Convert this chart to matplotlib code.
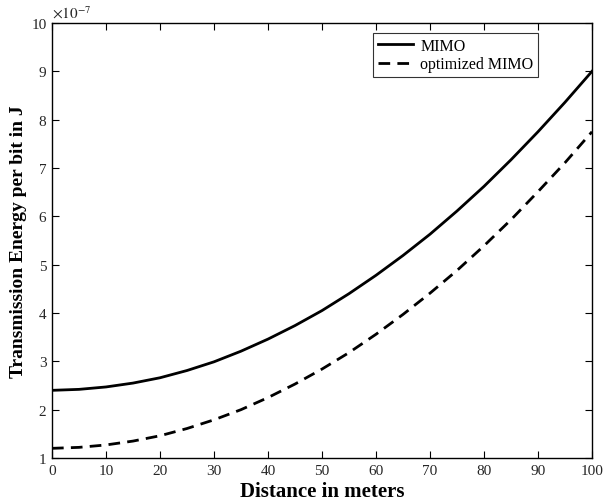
import matplotlib
matplotlib.use("Agg")
import matplotlib.pyplot as plt
import numpy as np

# distance in meters and energy per bit (x1e-7 J)
distance = [0, 5, 10, 15, 20, 25, 30, 35, 40, 45, 50,
            55, 60, 65, 70, 75, 80, 85, 90, 95, 100]
mimo = [2.40, 2.42, 2.47, 2.55, 2.66, 2.81, 2.99, 3.21, 3.46, 3.74, 4.05,
        4.40, 4.78, 5.19, 5.63, 6.11, 6.62, 7.17, 7.75, 8.36, 9.00]
mimo_opt = [1.20, 1.22, 1.27, 1.35, 1.46, 1.61, 1.79, 2.00, 2.25, 2.53, 2.84,
            3.18, 3.56, 3.97, 4.41, 4.88, 5.39, 5.93, 6.51, 7.11, 7.75]

x_ticks = list(range(0, 101, 10))
y_ticks = list(range(1, 11))

plt.rcParams['font.family'] = ['Liberation Serif', 'DejaVu Serif']
plt.rcParams['mathtext.fontset'] = 'stix'

fig = plt.figure(figsize=(6.03, 5.02), dpi=100)
ax = fig.add_axes([52 / 603, 1 - 459 / 502, 540 / 603, 435 / 502])

scale = 1e-7
ax.plot(distance, np.array(mimo) * scale, color='black', lw=2.0, label='MIMO')
ax.plot(distance, np.array(mimo_opt) * scale, color='black', lw=2.0,
        ls=(0, (4.2, 2.6)), label='optimized MIMO')

ax.set_xlim(0, 100)
ax.set_ylim(1 * scale, 10 * scale)
ax.set_xticks(x_ticks)
ax.set_yticks(np.array(y_ticks) * scale)
ax.set_yticklabels([str(v) for v in y_ticks])
ax.tick_params(direction='in', top=True, right=True, length=5, width=0.8,
               labelsize=11, labelcolor='#262626', pad=4)
for s in ax.spines.values():
    s.set_linewidth(1.0)

ax.text(0.0, 1.005, r'$\times 10^{-7}$', transform=ax.transAxes,
        fontsize=11, color='#262626', ha='left', va='bottom')

ax.set_xlabel('Distance in meters', fontsize=15, fontweight='bold', labelpad=3)
ax.set_ylabel('Transmission Energy per bit in J', fontsize=14,
              fontweight='bold', labelpad=3)

leg = ax.legend(loc='upper left', bbox_to_anchor=(321 / 540, 1 - 10 / 435),
                fontsize=11.5, frameon=True, fancybox=False, edgecolor='black',
                borderpad=0.3, handlelength=2.2, handletextpad=0.45,
                labelspacing=0.15, borderaxespad=0)
leg.get_frame().set_linewidth(0.8)

fig.savefig('out.png', dpi=100, facecolor='white')
